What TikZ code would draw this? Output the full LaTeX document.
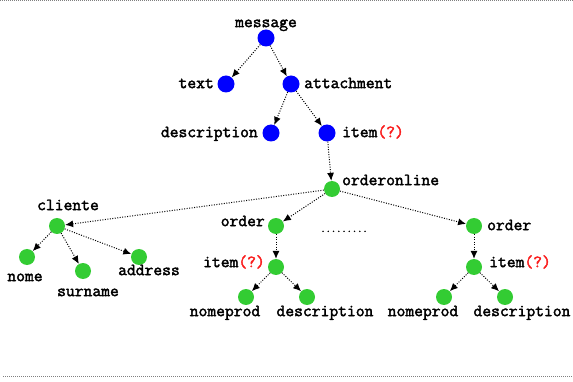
\documentclass[tikz,border=0pt]{standalone}
\usepackage{fontspec}
\newfontfamily\cour{Latin Modern Mono}[FakeBold=2.2]
\usetikzlibrary{arrows.meta}
\definecolor{nblue}{RGB}{0,0,255}
\definecolor{ngreen}{RGB}{51,204,51}
\definecolor{qred}{RGB}{250,30,30}
\tikzset{
  bn/.style={circle,fill=nblue,draw=none,minimum size=17pt,inner sep=0},
  gn/.style={circle,fill=ngreen,draw=none,minimum size=16pt,inner sep=0},
  lbl/.style={inner sep=0,font=\cour\fontsize{17.1}{20}\selectfont},
  conn/.style={line width=1pt,dash pattern=on 1pt off 1.5pt,-{Latex[length=8pt,width=7pt]}},
  rule/.style={gray,line width=1pt,dash pattern=on 1pt off 1pt}
}
\newcommand{\qm}{\textcolor{qred}{(?)}}
\begin{document}
\begin{tikzpicture}[x=1pt,y=-1pt]
\useasboundingbox (0,0) rectangle (573,382);
\draw[rule] (0,1) -- (573,1);
\draw[rule] (3,376) -- (573,376);
% blue tree
\node[bn] (message) at (266,38) {};
\node[bn] (text) at (226,84) {};
\node[bn] (attach) at (291,84) {};
\node[bn] (descr) at (271,133) {};
\node[bn] (item) at (327,133) {};
\node[lbl,anchor=mid] (lmessage) at (266,25) {message};
\node[lbl,anchor=mid east] (ltext) at (214,86) {text};
\node[lbl,anchor=mid west] (lattach) at (304,86) {attachment};
\node[lbl,anchor=mid east] (ldescr) at (258,135) {description};
\node[lbl,anchor=mid west] (litem) at (342,135) {item\qm};
% green tree
\node[gn] (online) at (332,189) {};
\node[gn] (cliente) at (57,226) {};
\node[gn] (nome) at (27,257) {};
\node[gn] (surname) at (83,271) {};
\node[gn] (address) at (139,257) {};
\node[gn] (orderA) at (276,226) {};
\node[gn] (itemA) at (276,267) {};
\node[gn] (nomeprodA) at (246,297) {};
\node[gn] (descrA) at (307,297) {};
\node[gn] (orderB) at (474,226) {};
\node[gn] (itemB) at (474,267) {};
\node[gn] (nomeprodB) at (444,297) {};
\node[gn] (descrB) at (505,297) {};
\node[lbl,anchor=mid west] (lonline) at (342,183) {orderonline};
\node[lbl,anchor=mid] (lcliente) at (68,208) {cliente};
\node[lbl,anchor=mid] (lnome) at (25,279) {nome};
\node[lbl,anchor=mid] (lsurname) at (88,294) {surname};
\node[lbl,anchor=mid] (laddress) at (149,273) {address};
\node[lbl,anchor=mid east] (lorderA) at (265,224) {order};
\node[lbl,anchor=mid east] (litemA) at (265,265) {item\qm};
\node[lbl,anchor=mid] (lnomeprodA) at (225,314) {nomeprod};
\node[lbl,anchor=mid] (ldescrA) at (325,314) {description};
\node[lbl,anchor=mid west] (lorderB) at (487,228) {order};
\node[lbl,anchor=mid west] (litemB) at (489,265) {item\qm};
\node[lbl,anchor=mid] (lnomeprodB) at (423,314) {nomeprod};
\node[lbl,anchor=mid] (ldescrB) at (522,314) {description};
\node[inner sep=0,font=\cour\fontsize{10}{12}\selectfont,anchor=base] (dots) at (344,232) {.........};
% connectors
\draw[conn] (message) -- (text);
\draw[conn] (message) -- (attach);
\draw[conn] (attach) -- (descr);
\draw[conn] (attach) -- (item);
\draw[conn] (item) -- (online);
\draw[conn] (online) -- (cliente);
\draw[conn] (online) -- (orderA);
\draw[conn] (online) -- (orderB);
\draw[conn] (cliente) -- (nome);
\draw[conn] (cliente) -- (surname);
\draw[conn] (cliente) -- (address);
\draw[conn] (orderA) -- (itemA);
\draw[conn] (itemA) -- (nomeprodA);
\draw[conn] (itemA) -- (descrA);
\draw[conn] (orderB) -- (itemB);
\draw[conn] (itemB) -- (nomeprodB);
\draw[conn] (itemB) -- (descrB);
\end{tikzpicture}
\end{document}
